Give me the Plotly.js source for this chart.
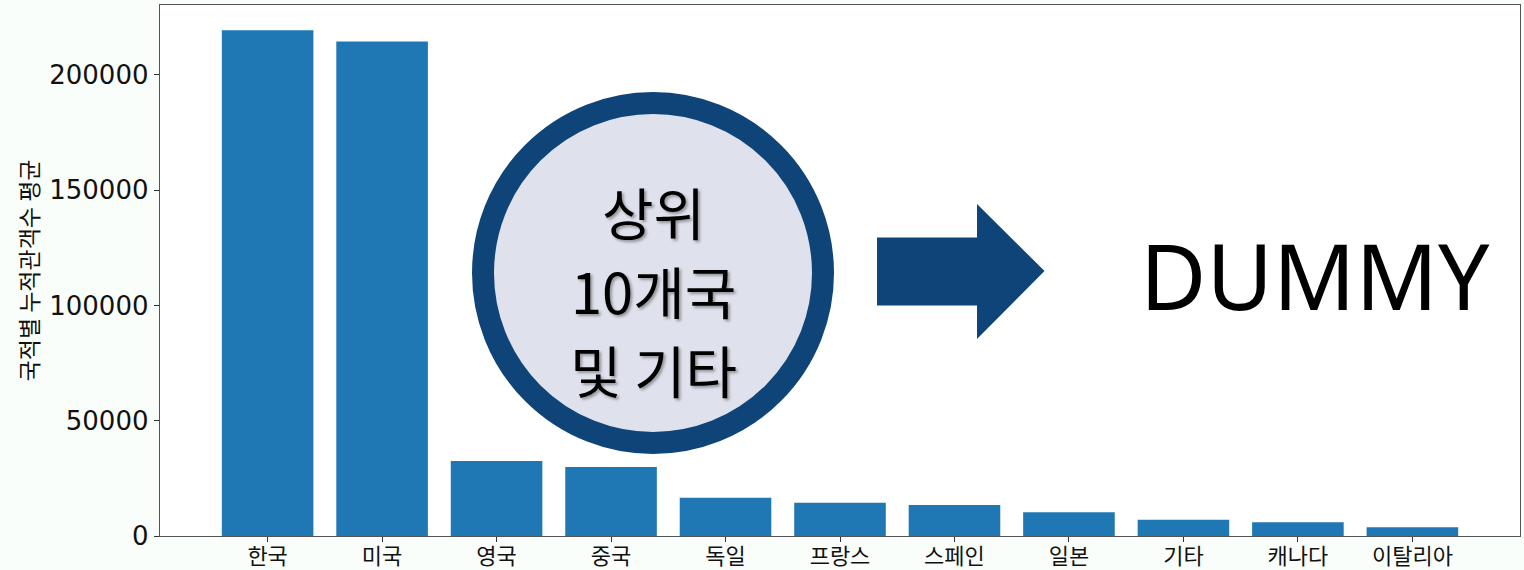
<!DOCTYPE html>
<html>
<head>
<meta charset="utf-8">
<script src="https://cdn.plot.ly/plotly-3.0.1.min.js"></script>
<style>html,body{margin:0;padding:0;background:#fafefa;}</style>
</head>
<body>
<div id="chart" style="width:1524px;height:570px;"></div>
<script>
const countries = ['한국','미국','영국','중국','독일','프랑스','스페인','일본','기타','캐나다','이탈리아'];
const avgAudience = [219400, 214500, 32500, 29900, 16600, 14450, 13450, 10300, 7070, 5950, 3780];
const yTicks = [0, 50000, 100000, 150000, 200000];
const yTitle = '국적별 누적관객수 평균';
const circleLines = ['상위', '10개국', '및 기타'];
const dummyText = 'DUMMY';

// layout helpers: pixel -> paper coordinates for the decorative overlay
const L = 160, R = 1520, T = 5, B = 536;
const px = x => (x - L) / (R - L);
const py = y => (B - y) / (B - T);

const navy = '#0e4478';
const cx = 653, cy = 273, rad = 170;

const arrowPts = [[877,237.5],[977,237.5],[977,204],[1044.5,271],[977,339],[977,305.5],[877,305.5]];
const arrowPath = 'M ' + arrowPts.map(p => px(p[0]).toFixed(5) + ' ' + py(p[1]).toFixed(5)).join(' L ') + ' Z';

const lineY = [210, 289, 368];
const annotations = circleLines.map((t, i) => ({
  text: t, xref: 'paper', yref: 'paper', x: px(cx), y: py(lineY[i]),
  xanchor: 'center', yanchor: 'middle', showarrow: false,
  font: {family: '"Noto Sans CJK KR", "Noto Sans", sans-serif', size: 56, color: '#000',
         shadow: '2px 2px 3px rgba(0,0,0,0.35)'}
}));
annotations.push({
  text: dummyText, xref: 'paper', yref: 'paper', x: px(1315), y: py(275),
  xanchor: 'center', yanchor: 'middle', showarrow: false,
  font: {family: '"Noto Sans", "Open Sans", sans-serif', size: 91, color: '#000'}
});

const data = [{
  type: 'bar',
  x: countries,
  y: avgAudience,
  width: 0.8,
  marker: {color: '#1f77b4', line: {width: 0}},
  hoverinfo: 'x+y'
}];

const layout = {
  width: 1524, height: 570,
  margin: {l: L, r: 1524 - R, t: T, b: 570 - B, pad: 0},
  paper_bgcolor: '#fafefa',
  plot_bgcolor: '#ffffff',
  showlegend: false,
  xaxis: {
    type: 'category',
    range: [-0.94, 10.94],
    showline: true, mirror: true, linecolor: '#555', linewidth: 1.3,
    ticks: 'outside', ticklen: 5, tickcolor: '#333', tickwidth: 1,
    ticklabelstandoff: -5,
    showgrid: false, zeroline: false,
    tickfont: {family: '"Noto Sans CJK KR", sans-serif', size: 22, color: '#111'}
  },
  yaxis: {
    range: [0, 230350],
    tickvals: yTicks,
    ticktext: yTicks.map(String),
    showline: true, mirror: true, linecolor: '#555', linewidth: 1.3,
    ticks: 'outside', ticklen: 5, tickcolor: '#333', tickwidth: 1,
    showgrid: false, zeroline: false,
    tickfont: {family: '"DejaVu Sans", sans-serif', size: 26, color: '#111'},
    title: {text: yTitle, standoff: 4,
            font: {family: '"Noto Sans CJK KR", sans-serif', size: 23, color: '#111'}}
  },
  shapes: [
    {type: 'circle', xref: 'paper', yref: 'paper',
     x0: px(cx - rad), x1: px(cx + rad), y0: py(cy + rad), y1: py(cy - rad),
     fillcolor: '#dfe2ec', line: {color: navy, width: 22}},
    {type: 'path', xref: 'paper', yref: 'paper', path: arrowPath,
     fillcolor: navy, line: {width: 0}}
  ],
  annotations: annotations
};

Plotly.newPlot('chart', data, layout, {displayModeBar: false, staticPlot: true});
</script>
</body>
</html>
